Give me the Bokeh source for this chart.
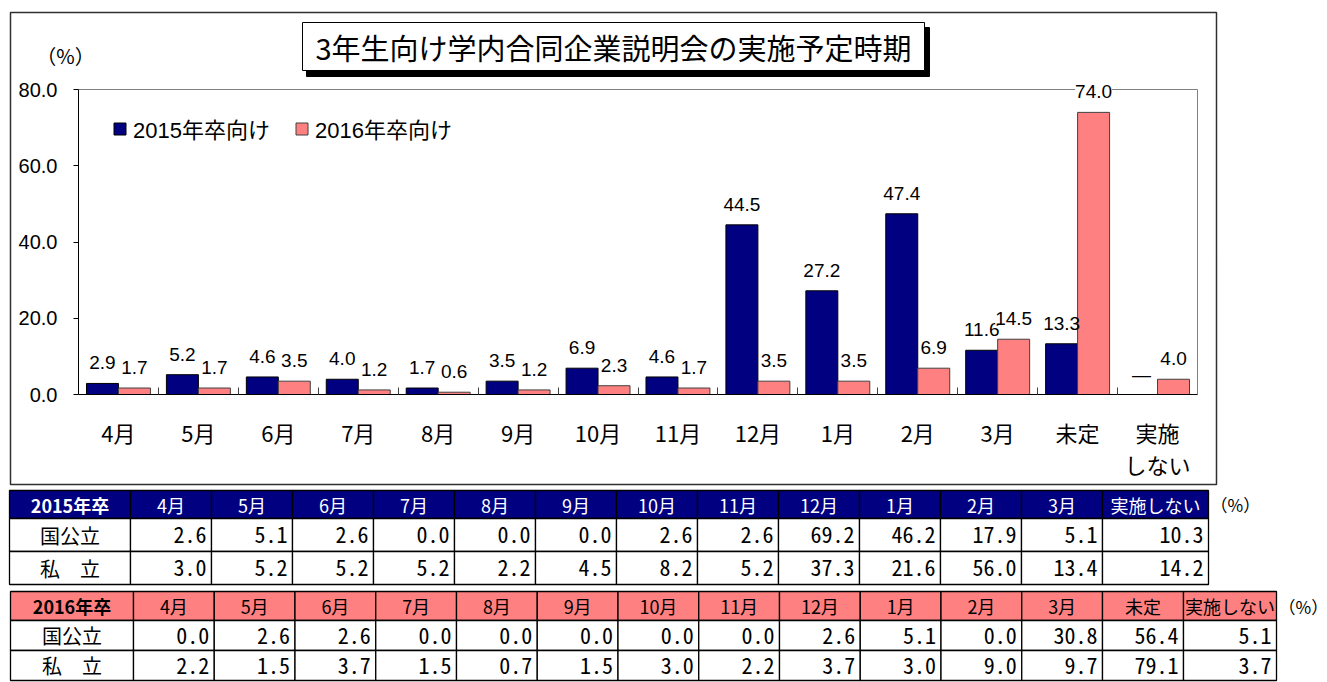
from bokeh.plotting import figure
from bokeh.models import (ColumnDataSource, Range1d, FixedTicker, LinearAxis, LabelSet, Label,
                          BoxAnnotation, Legend, LegendItem, NumeralTickFormatter)
from bokeh.layouts import column
from bokeh.embed import file_html
from bokeh.resources import INLINE
from bokeh.core.properties import value

# ---------------- data ----------------
categories = ["4月", "5月", "6月", "7月", "8月", "9月", "10月", "11月", "12月", "1月", "2月", "3月", "未定", "実施\nしない"]
series_2015 = [2.9, 5.2, 4.6, 4.0, 1.7, 3.5, 6.9, 4.6, 44.5, 27.2, 47.4, 11.6, 13.3, None]
series_2016 = [1.7, 1.7, 3.5, 1.2, 0.6, 1.2, 2.3, 1.7, 3.5, 3.5, 6.9, 14.5, 74.0, 4.0]
series_names = ["2015年卒向け", "2016年卒向け"]
y_ticks = [0, 20, 40, 60, 80]
title_text = "3年生向け学内合同企業説明会の実施予定時期"
unit_text = "（%）"

t2015_title = "2015年卒"
t2015_headers = ["4月", "5月", "6月", "7月", "8月", "9月", "10月", "11月", "12月", "1月", "2月", "3月", "実施しない"]
t2015_kokkoritsu = [2.6, 5.1, 2.6, 0.0, 0.0, 0.0, 2.6, 2.6, 69.2, 46.2, 17.9, 5.1, 10.3]
t2015_shiritsu = [3.0, 5.2, 5.2, 5.2, 2.2, 4.5, 8.2, 5.2, 37.3, 21.6, 56.0, 13.4, 14.2]

t2016_title = "2016年卒"
t2016_headers = ["4月", "5月", "6月", "7月", "8月", "9月", "10月", "11月", "12月", "1月", "2月", "3月", "未定", "実施しない"]
t2016_kokkoritsu = [0.0, 2.6, 2.6, 0.0, 0.0, 0.0, 0.0, 0.0, 2.6, 5.1, 0.0, 30.8, 56.4, 5.1]
t2016_shiritsu = [2.2, 1.5, 3.7, 1.5, 0.7, 1.5, 3.0, 2.2, 3.7, 3.0, 9.0, 9.7, 79.1, 3.7]

row_labels = ["国公立", "私　立"]

# ---------------- styles / layout ----------------
NAVY = "#000080"
PINK = "#FF8080"
JP = "'Noto Sans CJK JP', sans-serif"
NUM = "'Liberation Sans', Arial, 'Noto Sans CJK JP', sans-serif"
MONO = "'Noto Sans Mono CJK JP', 'DejaVu Sans Mono', monospace"

W = 1327           # canvas width
H1 = 487           # chart canvas height
H2 = 195           # table canvas height
PLOT_L, PLOT_R, PLOT_T, PLOT_B = 78, 1197, 89, 394   # plot area in pixels

n = len(categories)
ymax = y_ticks[-1]
sx = (PLOT_R - PLOT_L) / n
sy = (PLOT_B - PLOT_T) / ymax


def X(px):
    return (px - PLOT_L) / sx


def Y(py):
    return (PLOT_B - py) / sy


centers = [i + 0.5 for i in range(n)]
bounds = list(range(1, n))

# ---------------- chart ----------------
p = figure(width=W, height=H1,
           x_range=Range1d(X(0), X(W)), y_range=Range1d(Y(H1), Y(0)),
           x_axis_type=None, y_axis_type=None, output_backend="svg", toolbar_location=None,
           min_border=0)
p.outline_line_color = None
p.background_fill_color = "white"
p.border_fill_color = "white"

yaxis = LinearAxis(ticker=FixedTicker(ticks=y_ticks), formatter=NumeralTickFormatter(format="0.0"),
                   fixed_location=0, bounds=(0, ymax))
yaxis.major_tick_in = 0
yaxis.major_tick_out = 5
yaxis.minor_tick_line_color = None
yaxis.major_label_standoff = 16
yaxis.major_label_text_font = NUM
yaxis.major_label_text_font_size = "20px"
yaxis.major_label_text_color = "black"
yaxis.axis_line_color = "black"
yaxis.major_tick_line_color = "black"
p.add_layout(yaxis, "left")

xaxis = LinearAxis(ticker=FixedTicker(ticks=centers, minor_ticks=bounds),
                   major_label_overrides={c: lab for c, lab in zip(centers, categories)},
                   fixed_location=0, bounds=(0, n))
xaxis.major_tick_line_color = None
xaxis.major_tick_in = 0
xaxis.major_tick_out = 0
xaxis.minor_tick_in = 7
xaxis.minor_tick_out = 0
xaxis.minor_tick_line_color = "#404040"
xaxis.axis_line_color = "black"
xaxis.major_label_standoff = 21
xaxis.major_label_text_font = JP
xaxis.major_label_text_font_size = "22px"
xaxis.major_label_text_line_height = 1.0
xaxis.major_label_text_color = "black"
p.add_layout(xaxis, "below")

# plot-area border (top and right), gray
p.line(x=[0, n, n], y=[ymax, ymax, 0], line_color="#808080", line_width=1)

src = ColumnDataSource(dict(
    x15=[c - 0.2 for c in centers],
    x16=[c + 0.2 for c in centers],
    y15=[float("nan") if v is None else v for v in series_2015],
    y16=[float("nan") if v is None else v for v in series_2016],
    ly15=[0 if v is None else v for v in series_2015],
    ly16=[0 if v is None else v for v in series_2016],
    lab15=["—" if v is None else f"{v:.1f}" for v in series_2015],
    lab16=["—" if v is None else f"{v:.1f}" for v in series_2016],
))

r1 = p.vbar(x="x15", top="y15", bottom=0, width=0.4, fill_color=NAVY, line_color="#000000",
            line_width=1, source=src)
r2 = p.vbar(x="x16", top="y16", bottom=0, width=0.4, fill_color=PINK, line_color="#404040",
            line_width=1, source=src)

p.add_layout(LabelSet(x="x15", y="ly15", text="lab15", source=src, y_offset=14,
                      text_align="center", text_baseline="alphabetic",
                      text_font=value(NUM), text_font_size="19px", text_color="black"))
p.add_layout(LabelSet(x="x16", y="ly16", text="lab16", source=src, y_offset=14,
                      text_align="center", text_baseline="alphabetic",
                      text_font=value(NUM), text_font_size="19px", text_color="black",
                      background_fill_color="white"))

legend = Legend(items=[LegendItem(label=series_names[0], renderers=[r1]),
                       LegendItem(label=series_names[1], renderers=[r2])],
                orientation="horizontal", location="top_left", padding=0, margin=112,
                spacing=24, glyph_width=15, glyph_height=15, label_standoff=6,
                label_text_font=NUM, label_text_font_size="22px", label_text_color="black",
                border_line_color=None, background_fill_alpha=0)
p.add_layout(legend)

# outer frame of chart area
p.add_layout(BoxAnnotation(left=X(10), right=X(1216), top=Y(12), bottom=Y(484),
                           fill_alpha=0, line_color="#303030", line_alpha=1, line_width=1.5))
# title box with shadow
p.add_layout(BoxAnnotation(left=X(306), right=X(929), top=Y(27), bottom=Y(76),
                           fill_color="black", fill_alpha=1, line_color="black", line_alpha=1))
p.add_layout(BoxAnnotation(left=X(302), right=X(924), top=Y(22), bottom=Y(70),
                           fill_color="white", fill_alpha=1, line_color="black", line_alpha=1,
                           line_width=1))
p.add_layout(Label(x=X(613), y=Y(46), text=title_text,
                   text_align="center", text_baseline="middle",
                   text_font=JP, text_font_size="29px", text_color="black"))
p.add_layout(Label(x=X(65), y=Y(55), text=unit_text,
                   text_align="center", text_baseline="middle",
                   text_font=JP, text_font_size="20px", text_color="black"))

# ---------------- tables ----------------
t = figure(width=W, height=H2, x_range=Range1d(0, W), y_range=Range1d(H2, 0),
           x_axis_type=None, y_axis_type=None, output_backend="svg", toolbar_location=None,
           min_border=0)
t.outline_line_color = None
t.border_fill_color = "white"


def draw_table(fig, x0, y0, label_w, col_ws, row_hs, title, headers, rows, fill, hdr_color):
    edges = [x0, x0 + label_w]
    for w in col_ws:
        edges.append(edges[-1] + w)
    ys = [y0]
    for h in row_hs:
        ys.append(ys[-1] + h)
    ncol = len(edges) - 1
    L, R, T, B, F = [], [], [], [], []
    for ri in range(len(row_hs)):
        for ci in range(ncol):
            L.append(edges[ci]); R.append(edges[ci + 1])
            T.append(ys[ri]); B.append(ys[ri + 1])
            F.append(fill if ri == 0 else "white")
    fig.quad(left=L, right=R, top=T, bottom=B, fill_color=F, line_color="black", line_width=1.3)
    hx = [(edges[i] + edges[i + 1]) / 2 for i in range(1, ncol)]
    hy = (ys[0] + ys[1]) / 2
    fig.text(x=[(edges[0] + edges[1]) / 2], y=[hy], text=[title], text_align="center",
             text_baseline="middle", text_font=value(JP), text_font_size="18px",
             text_font_style="bold", text_color=hdr_color)
    fig.text(x=hx, y=[hy] * len(hx), text=headers, text_align="center", text_baseline="middle",
             text_font=value(JP), text_font_size="18px", text_color=hdr_color)
    for ri, (lab, vals) in enumerate(rows):
        cy = (ys[ri + 1] + ys[ri + 2]) / 2
        fig.text(x=[(edges[0] + edges[1]) / 2], y=[cy], text=[lab], text_align="center",
                 text_baseline="middle", text_font=value(JP), text_font_size="20px",
                 text_color="black")
        fig.text(x=[edges[i + 1] - 5 for i in range(1, ncol)], y=[cy] * len(vals),
                 text=[f"{v:.1f}" for v in vals], text_align="right", text_baseline="middle",
                 text_font=value(MONO), text_font_size="22px", text_color="black")
    fig.text(x=[edges[-1] + 2], y=[hy], text=[unit_text], text_align="left", text_baseline="middle",
             text_font=value(JP), text_font_size="17px", text_color="black")


draw_table(t, 9, 3, 121, [81] * 12 + [106], [28, 33, 33], t2015_title, t2015_headers,
           list(zip(row_labels, [t2015_kokkoritsu, t2015_shiritsu])), NAVY, "white")
draw_table(t, 10, 104, 123, [80.75] * 12 + [81, 93], [29, 30, 30], t2016_title, t2016_headers,
           list(zip(row_labels, [t2016_kokkoritsu, t2016_shiritsu])), PINK, "black")

layout = column(p, t, spacing=0)
open("out.html", "w").write(file_html(layout, INLINE))
